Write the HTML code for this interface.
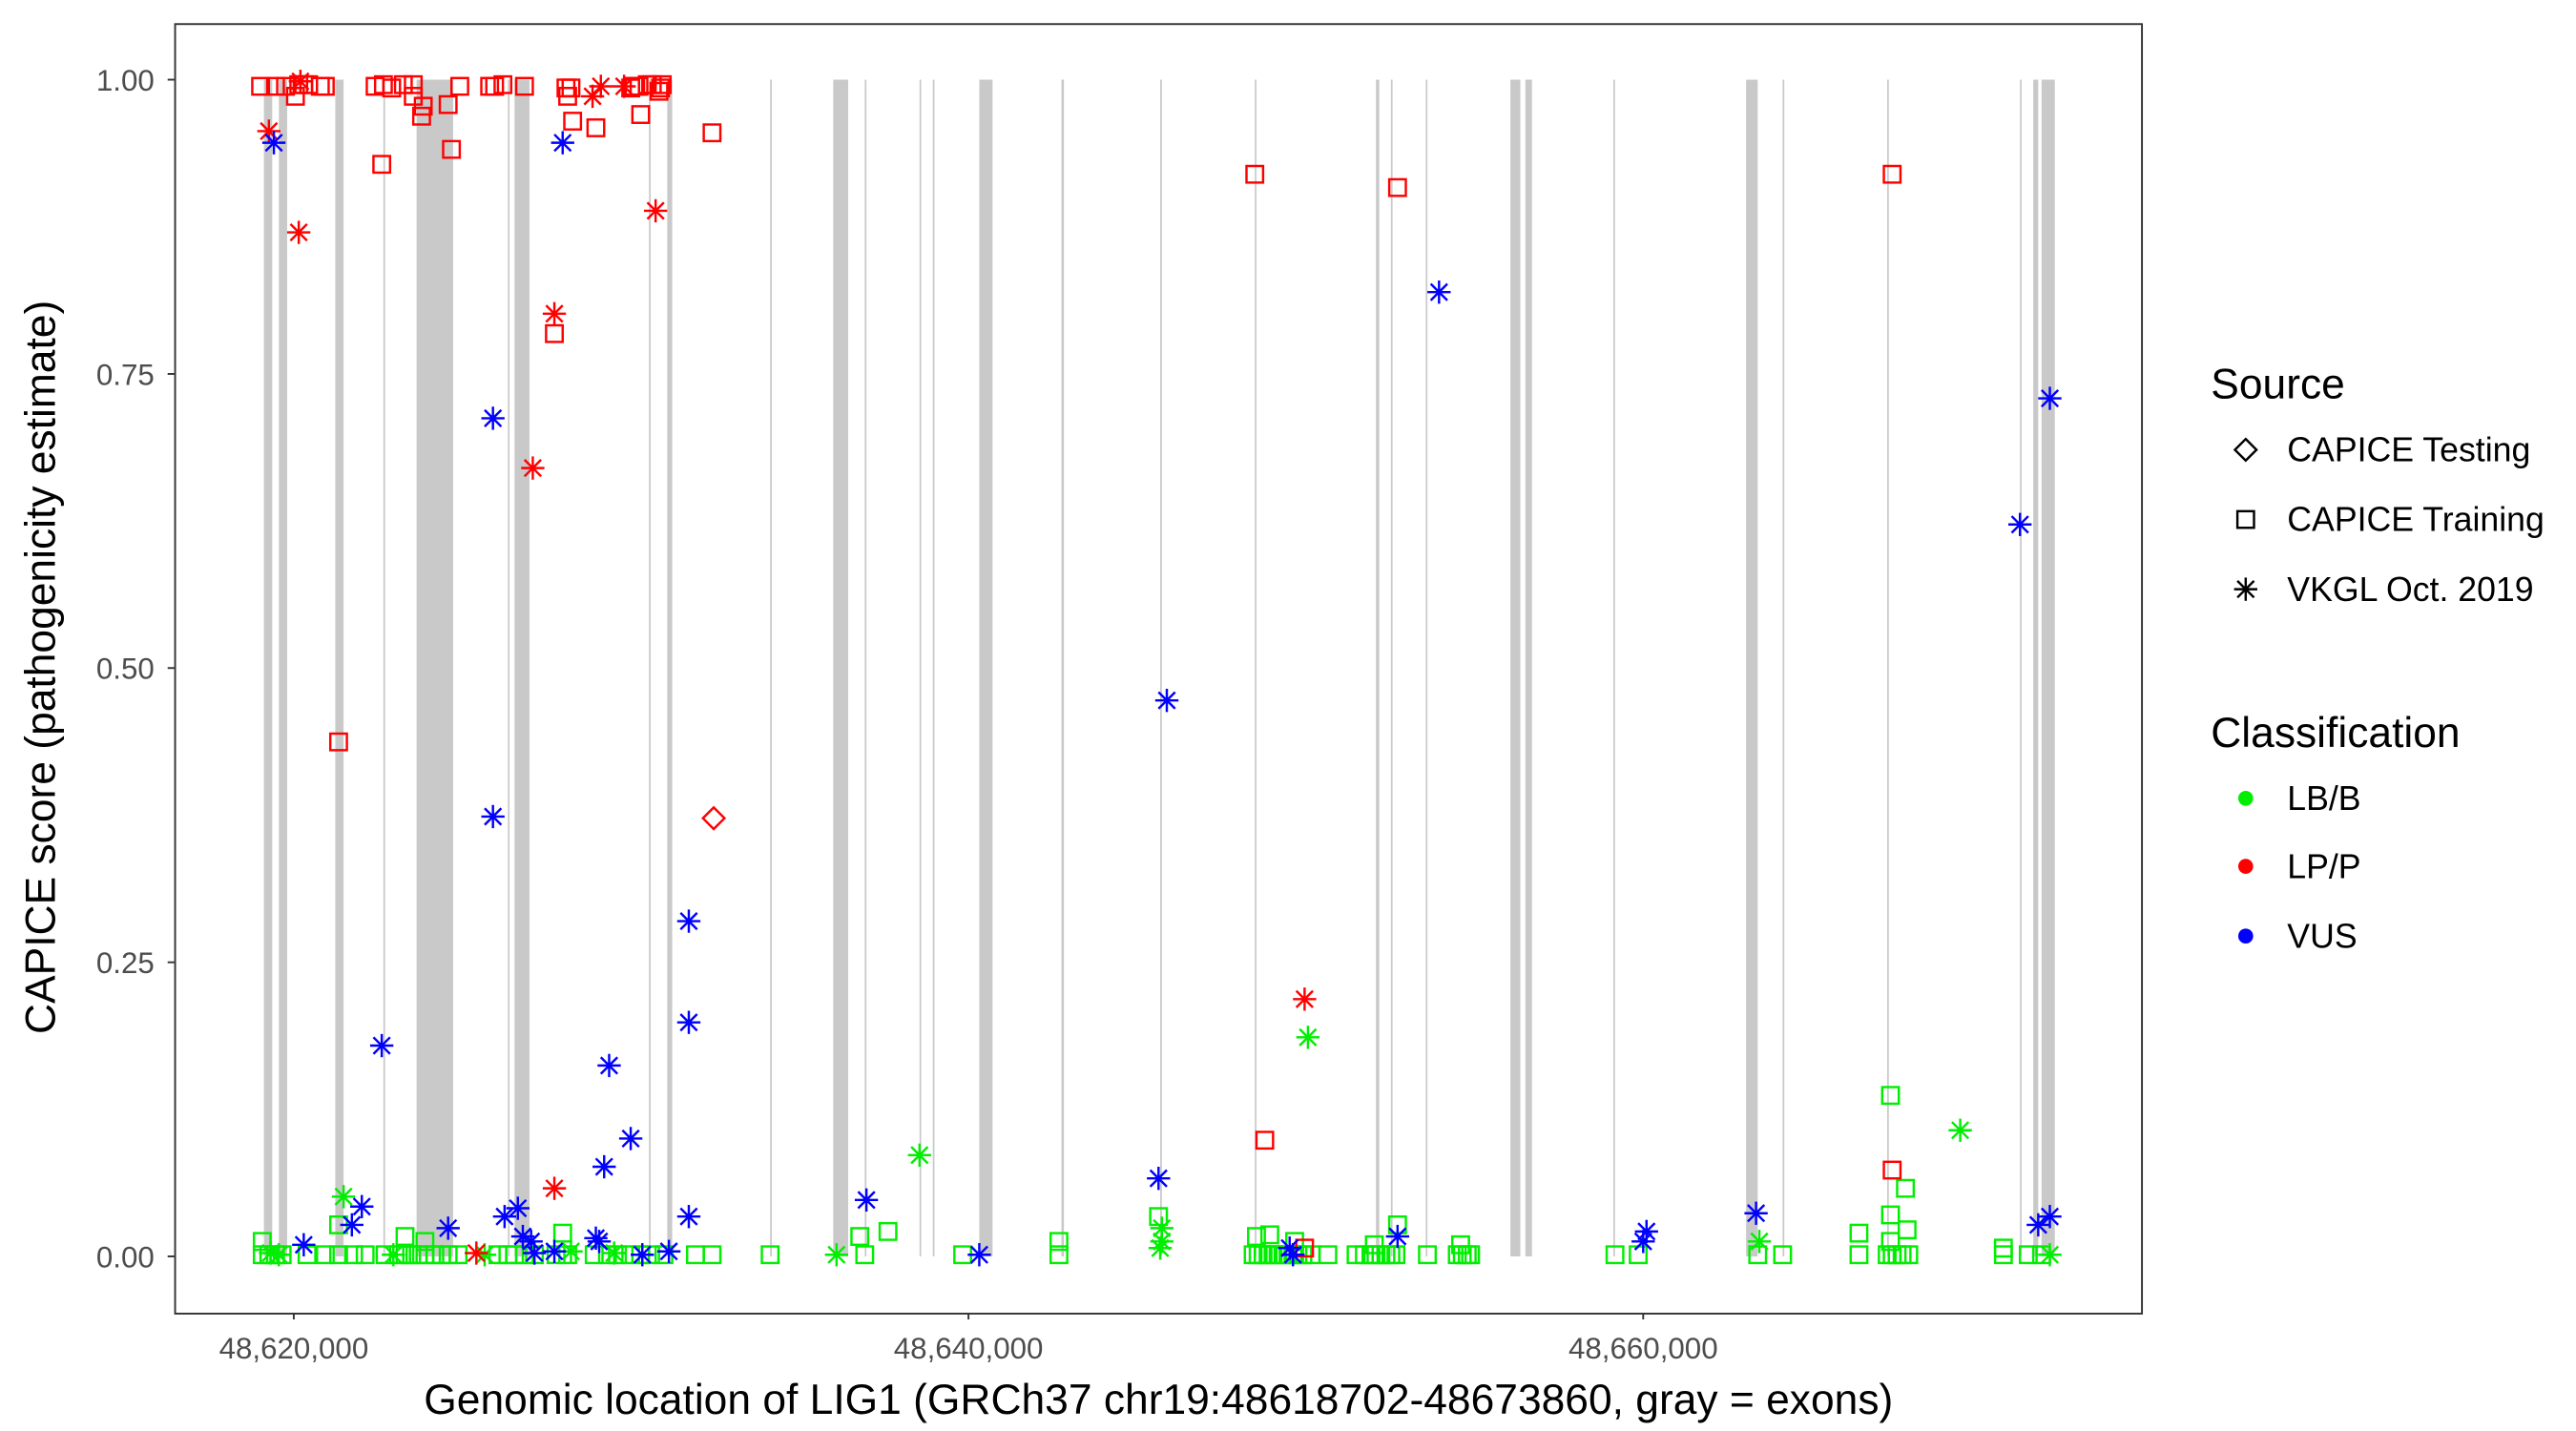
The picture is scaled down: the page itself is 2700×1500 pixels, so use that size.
<!DOCTYPE html>
<html><head><meta charset="utf-8"><style>
html,body{margin:0;padding:0;background:#fff}
svg{display:block}
text{font-family:"Liberation Sans",sans-serif}
</style></head><body>
<svg id="c" width="2700" height="1500" viewBox="0 0 1552 862.2" xmlns="http://www.w3.org/2000/svg">
<rect x="0" y="0" width="1552" height="862.2" fill="#fff"/>
<g id="bands" fill="#c9c9c9"></g>
<g id="pts"></g>
<rect x="105.5" y="14.5" width="1185" height="777" fill="none" stroke="#333" stroke-width="1.1"/>
<g stroke="#333" stroke-width="1.1">
<line x1="101" y1="48" x2="105" y2="48"/><line x1="101" y1="225.3" x2="105" y2="225.3"/><line x1="101" y1="402.5" x2="105" y2="402.5"/><line x1="101" y1="579.8" x2="105" y2="579.8"/><line x1="101" y1="757" x2="105" y2="757"/>
<line x1="177" y1="791" x2="177" y2="795"/><line x1="583.5" y1="791" x2="583.5" y2="795"/><line x1="990" y1="791" x2="990" y2="795"/>
</g>
<g fill="#4d4d4d" font-size="18" text-anchor="end">
<text x="93" y="54.5">1.00</text><text x="93" y="231.8">0.75</text><text x="93" y="409">0.50</text><text x="93" y="586.3">0.25</text><text x="93" y="763.5">0.00</text>
</g>
<g fill="#4d4d4d" font-size="18" text-anchor="middle">
<text x="177" y="818.5">48,620,000</text><text x="583.5" y="818.5">48,640,000</text><text x="990" y="818.5">48,660,000</text>
</g>
<text x="698" y="852" font-size="25.5" text-anchor="middle" fill="#000">Genomic location of LIG1 (GRCh37 chr19:48618702-48673860, gray = exons)</text>
<text transform="translate(33,402) rotate(-90)" font-size="25.5" text-anchor="middle" fill="#000">CAPICE score (pathogenicity estimate)</text>
<text x="1332" y="240" font-size="25.5" fill="#000">Source</text>
<g font-size="20.5" fill="#000">
<text x="1378" y="278">CAPICE Testing</text><text x="1378" y="320">CAPICE Training</text><text x="1378" y="362">VKGL Oct. 2019</text>
<text x="1378" y="488">LB/B</text><text x="1378" y="529">LP/P</text><text x="1378" y="571">VUS</text>
</g>
<text x="1332" y="450" font-size="25.5" fill="#000">Classification</text>
<g id="leg"></g>
</svg>
<script>
var NS="http://www.w3.org/2000/svg";
function el(p,t,a){var e=document.createElementNS(NS,t);for(var k in a)e.setAttribute(k,a[k]);p.appendChild(e);return e;}
var B=document.getElementById('bands');
[[159,164],[168,173],[202,207],[231,232],[251,273],[306,307],[310,319],[391,392],[402,405],[464,465],[502,511],[521,522],[554,555],[562,563],[590,598],[639.5,641],[699,700],[756,757],[829,831],[838,839],[859,860],[910,916],[919,923],[972,973],[1052,1059],[1074,1075],[1137,1138],[1217,1218],[1225,1228],[1230,1238]].forEach(function(b){el(B,'rect',{x:b[0],y:48,width:b[1]-b[0],height:709});});
var P=document.getElementById('pts');
function sq(g,x,y,c){el(g,'rect',{x:x-5,y:y-5,width:10,height:10,fill:'none',stroke:c,'stroke-width':1.4});}
function ast(g,x,y,c){var s=7,d=5;var a={stroke:c,'stroke-width':1.4};
[[x,y-s,x,y+s],[x-s,y,x+s,y],[x-d,y-d,x+d,y+d],[x-d,y+d,x+d,y-d]].forEach(function(l){var o=Object.assign({x1:l[0],y1:l[1],x2:l[2],y2:l[3]},a);el(g,'line',o);});}
function dia(g,x,y,c){el(g,'polygon',{points:(x)+','+(y-6.5)+' '+(x+6.5)+','+y+' '+x+','+(y+6.5)+' '+(x-6.5)+','+y,fill:'none',stroke:c,'stroke-width':1.4});}
var R='#ff0000',G='#00ee00',U='#0000ff';
[158,162,166,170,185,196,204,213,220,232,240,244,248,252,256,262,266,270,276,300,306,310,316,322,335,342,358,366,372,380,386,392,400,419,429,464,521,580,638,755,758,761,764,767,770,773,776,779,782,785,790,800,817,822,826,829,832,835,838,841,860,878,881,884,886,973,987,1059,1074,1120,1137,1140,1143,1146,1150,1207,1222,1230].forEach(function(x){sq(P,x,756,G);});
[[158,748],[204,738],[244,745],[256,748],[339,743],[518,745],[535,742],[638,748],[698,733],[842,738],[1120,743],[1139,660],[1139,732],[1148,716],[1149,741],[757,745],[765,744],[780,748],[828,750],[880,750],[1139,748],[1207,752]].forEach(function(p){sq(P,p[0],p[1],G);});
[[207,721],[554,696],[1181,681],[788,625],[504,756],[700,740],[700,748],[699,752],[1060,748],[1235,756],[370,755],[163,755],[168,756],[292,756],[237,756],[344,754]].forEach(function(p){ast(P,p[0],p[1],G);});
[157,166,172,180,183,186,193,196,226,231,236,243,249,277,295,298,303,316,341,344,380,382,385,390,393,398,399].forEach(function(x){sq(P,x,51+(x%3),R);});
[[178,58],[230,99],[254,70],[255,64],[272,90],[345,73],[359,77],[386,69],[429,80],[204,447],[334,201],[756,105],[842,113],[762,687],[1140,105],[1140,705],[786,752],[270,63],[249,58],[342,58],[397,55]].forEach(function(p){sq(P,p[0],p[1],R);});
[[162,79],[180,140],[181,49],[357,58],[362,52],[376,52],[395,127],[334,189],[321,282],[334,716],[287,755],[786,602]].forEach(function(p){ast(P,p[0],p[1],R);});
dia(P,430,493,R);
[[165,86],[339,86],[297,252],[297,492],[230,630],[415,555],[415,616],[367,642],[380,686],[364,703],[522,723],[415,733],[218,727],[212,738],[183,750],[270,740],[304,733],[312,728],[315,745],[320,748],[322,755],[334,754],[359,746],[361,748],[387,756],[403,754],[590,756],[703,422],[698,710],[867,176],[1217,316],[1235,240],[1235,733],[1228,738],[992,742],[990,748],[1058,731],[842,745],[779,756],[777,752]].forEach(function(p){ast(P,p[0],p[1],U);});
var L=document.getElementById('leg');
dia(L,1353,271,'#000');sq(L,1353,313,'#000');ast(L,1353,355,'#000');
el(L,'circle',{cx:1353,cy:481,r:4.5,fill:G});el(L,'circle',{cx:1353,cy:522,r:4.5,fill:R});el(L,'circle',{cx:1353,cy:564,r:4.5,fill:U});
</script>
</body></html>
